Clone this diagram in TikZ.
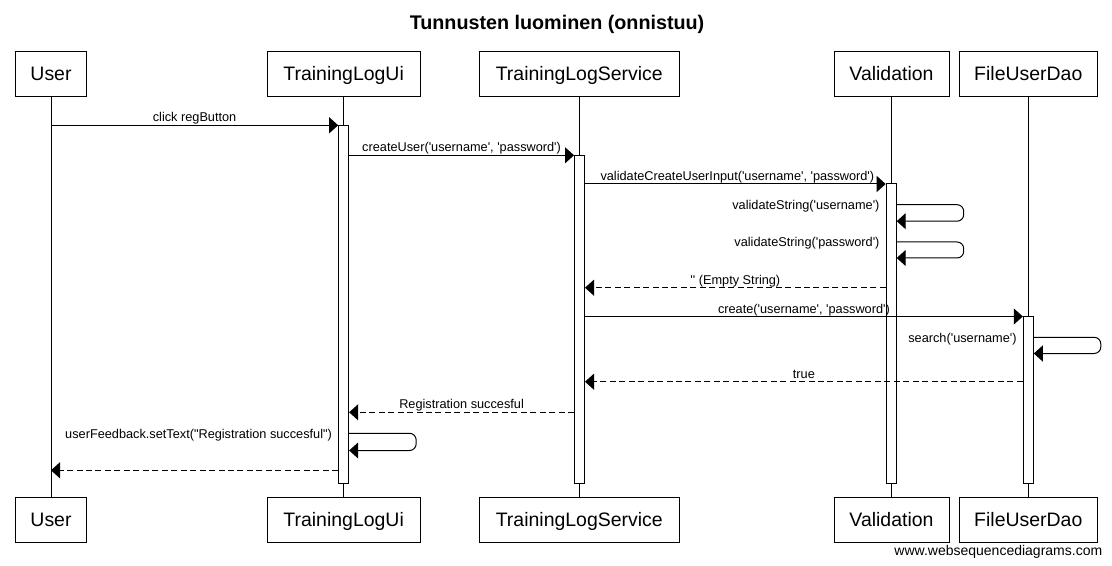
\documentclass[tikz,border=0pt]{standalone}
\usepackage{fontspec}
\setmainfont{Liberation Sans}[Ligatures=TeXOff]
\usetikzlibrary{arrows.meta}
\begin{document}
\begin{tikzpicture}[x=0.75pt,y=-0.75pt,
  part/.style={draw, fill=white, line width=0.75pt, minimum height=33.75pt, inner sep=0pt,
    text height=10.5pt, text depth=0pt, font=\fontsize{14.6}{17}\selectfont},
  act/.style={draw, fill=white, line width=0.75pt, minimum width=7.5pt, inner sep=0pt},
  life/.style={line width=0.75pt},
  msg/.style={line width=0.75pt, -{Triangle[length=6.75pt,width=12pt]}},
  ret/.style={msg, dash pattern=on 4.5pt off 2.6pt},
  self/.style={msg, rounded corners=5pt},
  lbl/.style={font=\fontsize{9.55}{11}\selectfont, inner sep=0pt, anchor=base, yshift=2.6pt},
  slbl/.style={font=\fontsize{9.55}{11}\selectfont, inner sep=0pt, anchor=base east, xshift=-4.5pt, yshift=-3.75pt}]
\fill[white] (0,0) rectangle (1112,566);
\useasboundingbox (0,0) rectangle (1112,566);

\node[font=\bfseries\fontsize{14.8}{17}\selectfont, anchor=base, inner sep=0pt] (title) at (557,29.3) {Tunnusten luominen (onnistuu)};

% participants top
\node[part, minimum width=71.4*0.75pt]  (uT) at (51,73.8) {User};
\node[part, minimum width=152.7*0.75pt] (iT) at (343.65,73.8) {TrainingLogUi};
\node[part, minimum width=200*0.75pt]   (sT) at (579.3,73.8) {TrainingLogService};
\node[part, minimum width=115*0.75pt]   (vT) at (891.5,73.8) {Validation};
\node[part, minimum width=138*0.75pt]   (fT) at (1028.3,73.8) {FileUserDao};
% participants bottom
\node[part, minimum width=71.4*0.75pt]  (uB) at (51,519.8) {User};
\node[part, minimum width=152.7*0.75pt] (iB) at (343.65,519.8) {TrainingLogUi};
\node[part, minimum width=200*0.75pt]   (sB) at (579.3,519.8) {TrainingLogService};
\node[part, minimum width=115*0.75pt]   (vB) at (891.5,519.8) {Validation};
\node[part, minimum width=138*0.75pt]   (fB) at (1028.3,519.8) {FileUserDao};

% lifelines
\draw[life] (uT.south) -- (uB.north);
\draw[life] (iT.south) -- (iB.north);
\draw[life] (sT.south) -- (sB.north);
\draw[life] (vT.south) -- (vB.north);
\draw[life] (fT.south) -- (fB.north);

% activations
\node[act, minimum height=358*0.75pt]   (aI) at (343.65,304.3) {};
\node[act, minimum height=327.7*0.75pt] (aS) at (579.5,319.15) {};
\node[act, minimum height=299*0.75pt]   (aV) at (891.2,333.5) {};
\node[act, minimum height=166.5*0.75pt] (aF) at (1028.3,399.75) {};

% message levels
\coordinate (y1) at (0,125.3);
\coordinate (y2) at (0,155.3);
\coordinate (y3) at (0,184);
\coordinate (y4) at (0,204.7);
\coordinate (y4b) at (0,221.2);
\coordinate (y5) at (0,242);
\coordinate (y5b) at (0,258);
\coordinate (y6) at (0,287.7);
\coordinate (y7) at (0,316.5);
\coordinate (y8) at (0,337.3);
\coordinate (y8b) at (0,353.5);
\coordinate (y9) at (0,381.7);
\coordinate (y10) at (0,412.3);
\coordinate (y11) at (0,433.3);
\coordinate (y11b) at (0,450.5);
\coordinate (y12) at (0,470.3);

\draw[msg] (uT.south |- y1) -- node[lbl]{click regButton} (aI.west |- y1);
\draw[msg] (aI.east |- y2) -- node[lbl]{createUser('username', 'password')} (aS.west |- y2);
\draw[msg] (aS.east |- y3) -- node[lbl, xshift=1.5pt]{validateCreateUserInput('username', 'password')} (aV.west |- y3);
\draw[self] (aV.east |- y4) -- ++(67,0) |- (aV.east |- y4b);
\node[slbl] at (aV.west |- y4) {validateString('username')};
\draw[self] (aV.east |- y5) -- ++(67,0) |- (aV.east |- y5b);
\node[slbl] at (aV.west |- y5) {validateString('password')};
\draw[ret] (aV.west |- y6) -- node[lbl]{'' (Empty String)} (aS.east |- y6);
\draw[msg] (aS.east |- y7) -- node[lbl]{create('username', 'password')} (aF.west |- y7);
\draw[self] (aF.east |- y8) -- ++(67,0) |- (aF.east |- y8b);
\node[slbl] at (aF.west |- y8) {search('username')};
\draw[ret] (aF.west |- y9) -- node[lbl]{true} (aS.east |- y9);
\draw[ret] (aS.west |- y10) -- node[lbl]{Registration succesful} (aI.east |- y10);
\draw[self] (aI.east |- y11) -- ++(67,0) |- (aI.east |- y11b);
\node[slbl] at (aI.west |- y11) {userFeedback.setText("Registration succesful")};
\draw[ret] (aI.west |- y12) -- (uT.south |- y12);

\node[font=\fontsize{10.5}{12}\selectfont, anchor=base east, inner sep=0pt] (wm) at (1102.5,555) {www.websequencediagrams.com};
\end{tikzpicture}
\end{document}
